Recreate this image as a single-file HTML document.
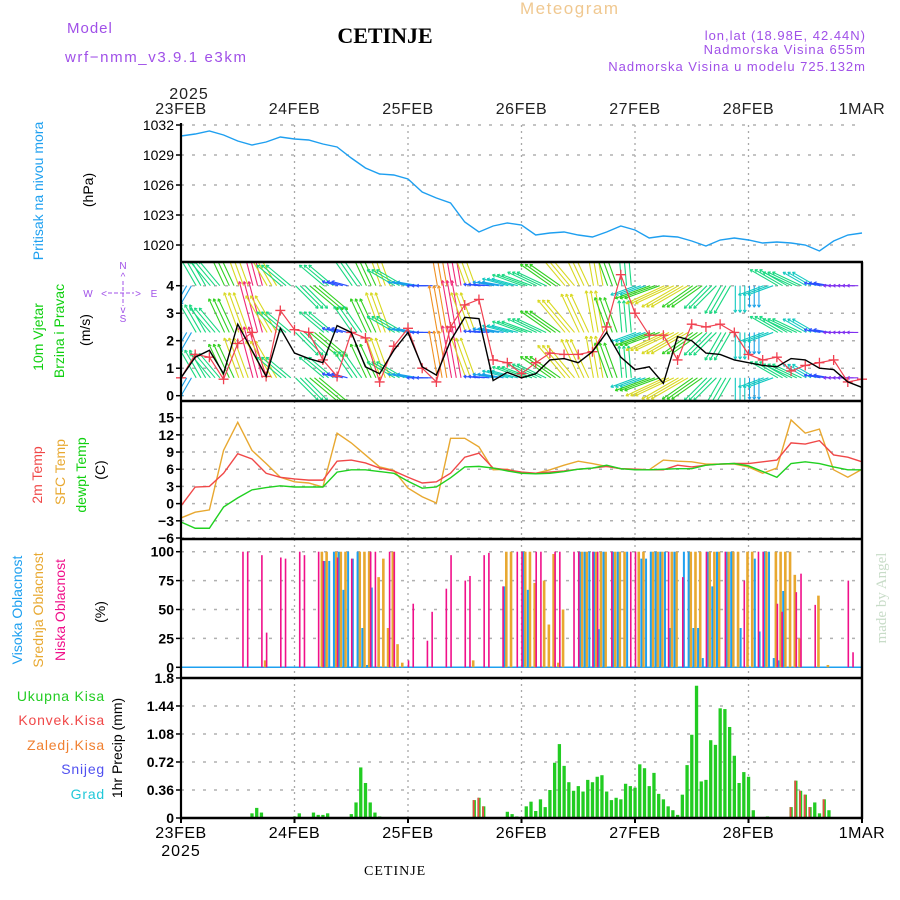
<!DOCTYPE html>
<html><head><meta charset="utf-8">
<style>
html,body{margin:0;padding:0;background:#fff;}
svg{display:block;font-family:"Liberation Sans",sans-serif;}
</style></head>
<body>
<svg id="chart" width="900" height="900" viewBox="0 0 900 900" xmlns="http://www.w3.org/2000/svg">
<rect x="0" y="0" width="900" height="900" fill="#fff"/>
<text x="67" y="33" font-size="15" fill="#a050e8" letter-spacing="1">Model</text>
<text x="65" y="62" font-size="15" fill="#a050e8" letter-spacing="1.6">wrf−nmm_v3.9.1 e3km</text>
<text x="385" y="43" font-size="22" font-weight="bold" text-anchor="middle" font-family="Liberation Serif, serif" fill="#000">CETINJE</text>
<text x="520" y="14" font-size="17" fill="#f0c890" letter-spacing="1.5">Meteogram</text>
<text x="866" y="40" font-size="13" fill="#a050e8" text-anchor="end" letter-spacing="1">lon,lat (18.98E, 42.44N)</text>
<text x="866" y="54" font-size="13" fill="#a050e8" text-anchor="end" letter-spacing="1">Nadmorska Visina 655m</text>
<text x="866" y="71" font-size="13" fill="#a050e8" text-anchor="end" letter-spacing="1">Nadmorska Visina u modelu 725.132m</text>
<text x="189" y="99" font-size="16" fill="#222" text-anchor="middle" letter-spacing="1">2025</text>
<text x="181" y="856" font-size="16" fill="#000" text-anchor="middle" letter-spacing="1">2025</text>
<text x="364" y="875" font-size="14" font-family="Liberation Serif, serif" fill="#000" letter-spacing="1">CETINJE</text>
<text transform="translate(886,598) rotate(-90)" font-size="15" font-family="Liberation Serif, serif" fill="#c8dcc8" text-anchor="middle">made by Angel</text>

<text transform="translate(43,191) rotate(-90)" font-size="14" fill="#1ea0f0" text-anchor="middle">Pritisak na nivou mora</text>
<text transform="translate(93,190) rotate(-90)" font-size="14" fill="#000" text-anchor="middle">(hPa)</text>
<text transform="translate(43,337) rotate(-90)" font-size="14" fill="#10d010" text-anchor="middle">10m Vjetar</text>
<text transform="translate(64,331) rotate(-90)" font-size="14" fill="#10d010" text-anchor="middle">Brzina i Pravac</text>
<text transform="translate(90,330) rotate(-90)" font-size="14" fill="#000" text-anchor="middle">(m/s)</text>
<g font-size="10" fill="#a050e8" text-anchor="middle">
<text x="123" y="269">N</text><text x="123" y="280">^</text><text x="88" y="297">W</text><text x="154" y="297">E</text>
<text x="123" y="322">S</text><text x="123" y="313">v</text>
<text x="104" y="297">&lt;</text><text x="138" y="297">&gt;</text>
<line x1="108" y1="293" x2="134" y2="293" stroke="#a050e8" stroke-dasharray="4,2"/>
<line x1="123" y1="281" x2="123" y2="306" stroke="#a050e8" stroke-dasharray="4,2"/>
</g>
<text transform="translate(42,475) rotate(-90)" font-size="14" fill="#f04848" text-anchor="middle">2m Temp</text>
<text transform="translate(65,472) rotate(-90)" font-size="14" fill="#e8a830" text-anchor="middle">SFC Temp</text>
<text transform="translate(86,475) rotate(-90)" font-size="14" fill="#10d010" text-anchor="middle">dewpt Temp</text>
<text transform="translate(105,470) rotate(-90)" font-size="14" fill="#000" text-anchor="middle">(C)</text>
<text transform="translate(22,610) rotate(-90)" font-size="14" fill="#1ea0f0" text-anchor="middle">Visoka Oblacnost</text>
<text transform="translate(43,610) rotate(-90)" font-size="14" fill="#e8a830" text-anchor="middle">Srednja Oblacnost</text>
<text transform="translate(65,610) rotate(-90)" font-size="14" fill="#f0108a" text-anchor="middle">Niska Oblacnost</text>
<text transform="translate(105,612) rotate(-90)" font-size="14" fill="#000" text-anchor="middle">(%)</text>
<g font-size="14" text-anchor="end" letter-spacing="0.8">
<text x="105" y="701" fill="#22cc22">Ukupna Kisa</text>
<text x="105" y="725" fill="#f04848">Konvek.Kisa</text>
<text x="105" y="750" fill="#f08030">Zaledj.Kisa</text>
<text x="105" y="774" fill="#5050f0">Snijeg</text>
<text x="105" y="799" fill="#20c8d8">Grad</text>
</g>
<text transform="translate(122,748) rotate(-90)" font-size="14" fill="#000" text-anchor="middle">1hr Precip (mm)</text>

<g id="grid"></g>
<g id="marks"></g>
<g id="axes"></g>
</svg>
<script>
const dayLabels = ["23FEB","24FEB","25FEB","26FEB","27FEB","28FEB","1MAR"];
const pressureTicks = [1032,1029,1026,1023,1020];
const windTicks = [0,1,2,3,4];
const tempTicks = [15,12,9,6,3,0,-3,-6];
const tempTickLabels = ["15","12","9","6","3","0","−3","−6"];
const cloudTicks = [100,75,50,25,0];
const precipTicks = [0,0.36,0.72,1.08,1.44,1.8];
const precipTickLabels = ["0","0.36","0.72","1.08","1.44","1.8"];
const pressure = [1030.9,1031.1,1031.4,1031.0,1030.4,1030.0,1030.3,1030.8,1030.6,1030.5,1030.1,1029.8,1028.7,1027.7,1027.1,1027.0,1026.6,1025.3,1024.7,1024.2,1022.3,1021.3,1021.9,1022.2,1022.0,1021.0,1021.2,1021.3,1021.0,1020.8,1021.3,1021.9,1021.5,1020.7,1020.9,1020.8,1020.4,1019.9,1020.5,1020.7,1020.5,1020.2,1020.3,1020.2,1020.0,1019.4,1020.4,1021.0,1021.2];
const windSpeed = [0.65,1.4,1.65,0.8,2.6,1.65,0.7,2.45,1.55,1.35,1.2,2.55,2.3,1.05,0.8,1.65,2.3,1.05,0.75,2.0,2.85,2.8,0.55,0.85,0.65,0.8,1.3,1.35,1.2,1.6,2.3,1.4,0.95,1.05,0.45,2.15,2.0,1.55,1.5,1.3,1.2,1.1,1.05,1.35,1.3,1.0,0.95,0.5,0.3];
const windGust = [0.65,1.5,1.4,0.6,1.9,2.3,0.7,3.1,2.4,2.3,1.3,0.7,2.3,2.1,0.5,1.8,2.45,1.0,0.5,2.5,3.3,3.5,1.3,1.2,0.8,1.2,1.55,1.5,1.5,1.6,2.5,4.4,3.0,2.2,2.2,1.3,2.6,2.5,2.6,2.3,1.5,1.3,1.4,0.9,1.1,1.2,1.3,0.5,0.6];
const windDir = [240,120,130,115,110,105,120,140,315,320,140,165,125,115,110,150,170,180,100,100,110,175,170,165,160,155,145,130,115,100,110,95,200,200,205,210,215,225,240,270,270,200,150,155,150,170,180,180,180];
const windMag = [3,5,5,6,7,9,7,5,5,6,5,2,5,6,7,5,3,2,8,9,7,2,3,4,5,5,6,7,7,7,6,5,4,6,7,7,6,5,5,4,3,4,5,5,4,2,1,1,1];
const temp2m = [-0.4,2.9,3.0,5.3,8.7,7.8,5.3,4.6,4.3,4.1,4.1,7.4,7.6,7.1,6.2,5.7,4.6,3.6,3.8,5.3,8.1,8.8,6.2,5.9,5.5,5.3,5.5,5.7,6.0,6.2,6.5,6.1,6.0,5.9,5.9,6.7,6.4,6.7,6.9,7.0,7.0,7.3,7.6,10.6,10.4,11.0,8.5,8.1,7.3];
const tempSfc = [-2.5,-1.5,-1.1,9.3,14.2,9.3,7.0,4.6,3.8,3.6,2.9,12.3,10.6,8.5,6.4,5.8,2.7,1.2,0.1,11.4,11.4,9.9,5.9,6.0,5.3,5.3,5.9,6.7,7.4,7.0,6.5,6.1,6.0,5.9,7.6,7.4,7.3,6.9,6.9,6.9,6.4,5.3,6.2,14.6,12.3,13.0,5.9,4.6,6.0];
const tempDew = [-3.2,-4.3,-4.3,-0.6,1.0,2.4,2.8,3.1,2.9,2.9,2.9,5.5,5.9,5.9,5.6,5.3,3.9,2.7,2.9,4.5,6.4,6.5,6.2,5.7,5.3,5.2,5.3,5.6,6.0,6.2,6.7,6.1,5.9,5.9,6.0,6.1,6.1,6.7,6.9,7.0,6.6,5.6,4.6,7.0,7.3,7.0,6.4,5.9,5.9];
const cloudLowHours = [13,14,17,18,21,22,25,26,29,30,33,36,40,41,44,45,48,49,52,53,56,57,60,61,64,65,68,71,72,75,76,79,80,83,84,87,88,91,95,96,103,106,111,115,119,122,123,126,127,130,131,134,141,142];
const cloudLowVals  = [100,100,97,30,95,94,100,97,100,92,95,94,100,100,100,100,6,55,23,48,68,97,75,79,97,99,70,100,100,100,100,100,100,100,100,100,100,100,100,100,100,78,100,100,75,100,100,55,48,65,81,54,75,13];
const cloudMidHours = [18,30,31,33,34,35,38,39,40,42,43,44,45,46,47,62,69,70,73,74,75,77,78,79,80,81,85,86,88,89,90,92,93,94,97,98,100,101,102,104,105,108,109,110,112,113,114,116,117,118,120,121,124,126,127,128,129,130,131,135,137];
const cloudMidVals  = [6,100,100,100,100,100,100,100,100,78,94,34,100,20,4,6,100,100,100,100,73,75,37,98,4,50,100,100,100,100,100,100,100,100,100,100,100,100,100,100,100,100,100,100,100,100,100,100,100,100,100,100,100,100,100,100,100,80,25,62,2];
const cloudHighHours = [30,31,32,33,34,35,36,37,38,39,40,68,72,73,84,85,86,87,88,89,91,92,94,97,98,99,100,101,102,103,104,106,107,108,109,110,111,112,113,115,116,118,121,122,123,124,125,126,127];
const cloudHighVals  = [92,92,100,100,67,100,94,100,34,2,69,70,100,67,100,100,100,100,33,100,100,100,100,94,94,100,100,100,100,34,100,100,100,34,34,8,100,70,100,100,100,34,94,31,100,100,8,6,66];
const precipHours = [15,16,17,24,25,28,29,30,31,36,37,38,39,40,41,42,62,63,64,69,70,71,72,73,74,75,76,77,78,79,80,81,82,83,84,85,86,87,88,89,90,91,92,93,94,95,96,97,98,99,100,101,102,103,104,105,106,107,108,109,110,111,112,113,114,115,116,117,118,119,120,121,124,129,130,131,132,133,134,135,136,137];
const precipTotal = [0.06,0.13,0.07,0.02,0.06,0.07,0.04,0.04,0.06,0.05,0.2,0.65,0.45,0.2,0.07,0.02,0.23,0.26,0.15,0.08,0.05,0.02,0.01,0.15,0.21,0.09,0.24,0.14,0.36,0.71,0.95,0.67,0.46,0.35,0.41,0.34,0.49,0.46,0.53,0.55,0.34,0.23,0.26,0.24,0.44,0.41,0.39,0.69,0.64,0.41,0.58,0.31,0.24,0.15,0.1,0.04,0.3,0.68,1.07,1.70,0.47,0.49,1.0,0.94,1.41,1.40,1.17,0.80,0.45,0.59,0.53,0.1,0.02,0.14,0.48,0.35,0.3,0.14,0.2,0.06,0.24,0.1];
const convHours = [62,63,64,129,130,131,132,133,136];
const convVals  = [0.23,0.26,0.15,0.14,0.48,0.35,0.3,0.14,0.24];

const X0=181, X1=862, HOURS=144;
const xH = h => X0 + h*(X1-X0)/HOURS;
const x3 = i => xH(i*3);
const yP = p => 125 + (1032-p)*10;
const yW = v => 395.7 - v*27.5;
const yT = t => 538 - (t+6)*5.73;
const yC = c => 667.3 - c*1.156;
const yR = r => 818 - r*77.8;
const NS="http://www.w3.org/2000/svg";
function mk(parent, tag, attrs){const e=document.createElementNS(NS,tag);for(const k in attrs)e.setAttribute(k,attrs[k]);parent.appendChild(e);return e;}
const grid=document.getElementById('grid'), marks=document.getElementById('marks'), axes=document.getElementById('axes');

const panels=[{top:125,bot:262},{top:262,bot:401},{top:401,bot:539},{top:539,bot:678},{top:678,bot:818}];
for(let d=1;d<6;d++){
  const gx=xH(d*24);
  panels.forEach(p=>{
    const l=mk(grid,'line',{x1:gx,x2:gx,y1:p.top,y2:p.bot,stroke:'#a8a8a8','stroke-width':1.3,'stroke-dasharray':'2,4'});
    
    
  });
}
function hgrid(y){
  const l=mk(grid,'line',{x1:X0,x2:X1,y1:y,y2:y,stroke:'#b0b0b0','stroke-width':1.5,'stroke-dasharray':'3,8'});
  
  
}
pressureTicks.forEach(v=>hgrid(yP(v)));
windTicks.forEach(v=>hgrid(yW(v)));
tempTicks.forEach(v=>hgrid(yT(v)));
cloudTicks.forEach(v=>hgrid(yC(v)));
precipTicks.forEach(v=>hgrid(yR(v)));

function ytick(y,label,name,bold){
  const t=mk(axes,'text',{x:174,y:y+5,'font-size':14,'text-anchor':'end',fill:'#000','font-weight':bold?'bold':'normal'});
  t.textContent=label;
  
  
  mk(axes,'line',{x1:X0-5,x2:X0,y1:y,y2:y,stroke:'#000','stroke-width':1.5});
}
pressureTicks.forEach(v=>ytick(yP(v),String(v),'pressure-tick-label',false));
windTicks.forEach(v=>ytick(yW(v),String(v),'wind-tick-label',true));
tempTicks.forEach((v,i)=>ytick(yT(v),tempTickLabels[i],'temp-tick-label',true));
cloudTicks.forEach(v=>ytick(yC(v),String(v),'cloud-tick-label',true));
precipTicks.forEach((v,i)=>ytick(yR(v),precipTickLabels[i],'precip-tick-label',true));
dayLabels.forEach((lab,d)=>{
  const gx=xH(d*24);
  const t1=mk(axes,'text',{x:gx,y:114,'font-size':16,'text-anchor':'middle',fill:'#222','letter-spacing':'0.5'});
  t1.textContent=lab;
  
  
  const t2=mk(axes,'text',{x:gx,y:838,'font-size':16,'text-anchor':'middle',fill:'#000','letter-spacing':'0.5'});
  t2.textContent=lab;
  
  
  mk(axes,'line',{x1:gx,x2:gx,y1:818,y2:823,stroke:'#000','stroke-width':2});
});

const pPath=mk(marks,'polyline',{points:pressure.map((v,i)=>x3(i)+','+yP(v)).join(' '),fill:'none',stroke:'#1e9ff0','stroke-width':1.4});



const clip=mk(marks,'clipPath',{id:'windclip'});
mk(clip,'rect',{x:X0,y:262,width:X1-X0,height:139});
const windG=mk(marks,'g',{'clip-path':'url(#windclip)'});


const magColors=['#8030f0','#8030f0','#2a50ff','#18a0e8','#10c8c0','#18d880','#30d020','#d8d820','#f09020','#f02878'];
const rows=[4.0,2.3,0.65];
for(let h=0;h<HOURS;h++){
  const i=Math.floor(h/3);
  const a=windDir[i]*Math.PI/180, len=windMag[i]*5.2+6, col=magColors[Math.min(9,windMag[i])];
  rows.forEach(r=>{
    const sx=xH(h)+1, sy=yW(r);
    const ex=sx+len*Math.cos(a), ey=sy-len*Math.sin(a);
    const l=mk(windG,'line',{x1:sx,y1:sy,x2:ex,y2:ey,stroke:col,'stroke-width':1.1});
    
    
    const hl=3;
    [a+2.6,a-2.6].forEach(b=>mk(windG,'line',{x1:ex,y1:ey,x2:ex+hl*Math.cos(b),y2:ey-hl*Math.sin(b),stroke:col,'stroke-width':1}));
  });
}
const gPath=mk(marks,'polyline',{points:windGust.map((v,i)=>x3(i)+','+yW(v)).join(' '),fill:'none',stroke:'#f04050','stroke-width':1.2});


windGust.forEach((v,i)=>{
  const cx=x3(i), cy=yW(v);
  const g=mk(marks,'path',{d:`M${cx-5},${cy}H${cx+5}M${cx},${cy-5}V${cy+5}`,stroke:'#f04050','stroke-width':1.3,fill:'none'});
  
  
});
const sPath=mk(marks,'polyline',{points:windSpeed.map((v,i)=>x3(i)+','+yW(v)).join(' '),fill:'none',stroke:'#000','stroke-width':1.4});



[[tempSfc,'#e8a830','sfc-temp-line'],[temp2m,'#f04848','temp-2m-line'],[tempDew,'#20d020','dewpoint-line']].forEach(([arr,col,name])=>{
  const l=mk(marks,'polyline',{points:arr.map((v,i)=>x3(i)+','+yT(v)).join(' '),fill:'none',stroke:col,'stroke-width':1.4});
  
  
});

const zl=mk(marks,'line',{x1:X0,x2:X1,y1:yC(0),y2:yC(0),stroke:'#1ea0f0','stroke-width':1.5});


function cloudBars(hours,vals,col,dx,w,name){
  hours.forEach((h,i)=>{
    const x=xH(h)+dx;
    const b=mk(marks,'rect',{x:x-w/2,y:yC(vals[i]),width:w,height:yC(0)-yC(vals[i]),fill:col});
    
    
  });
}
cloudBars(cloudMidHours,cloudMidVals,'#e8a830',-1,2.6,'cloud-mid-bar');
cloudBars(cloudHighHours,cloudHighVals,'#1ea0f0',1.6,2,'cloud-high-bar');
cloudBars(cloudLowHours,cloudLowVals,'#f0108a',0.5,1.6,'cloud-low-bar');

precipHours.forEach((h,i)=>{
  const x=xH(h);
  const b=mk(marks,'rect',{x:x-1.6,y:yR(precipTotal[i]),width:3.3,height:yR(0)-yR(precipTotal[i]),fill:'#22cc22'});
  
  
});
convHours.forEach((h,i)=>{
  const x=xH(h);
  const b=mk(marks,'rect',{x:x-1.4,y:yR(convVals[i]),width:1.8,height:yR(0)-yR(convVals[i]),fill:'#f04848'});
  
  
});

mk(axes,'line',{x1:X0,x2:X0,y1:123,y2:820,stroke:'#000','stroke-width':2.2});
[262,401,539,678,818].forEach(y=>{
  const l=mk(axes,'line',{x1:X0,x2:X1+1,y1:y,y2:y,stroke:'#000','stroke-width':2.4});
  
  
});
mk(axes,'line',{x1:X1,x2:X1,y1:262,y2:819,stroke:'#000','stroke-width':2.4});
</script>
</body></html>
